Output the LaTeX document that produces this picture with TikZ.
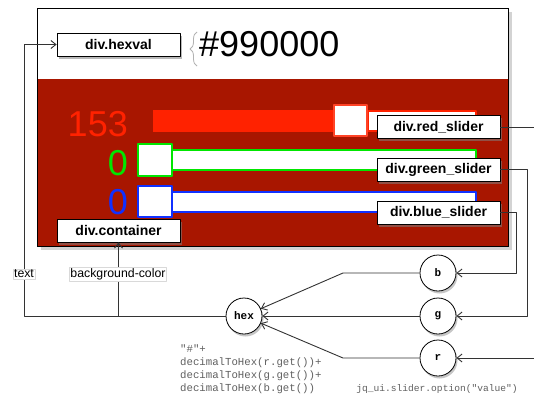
\documentclass[tikz,border=0pt]{standalone}
\usepackage{fontspec}
\setmainfont{Liberation Sans}
\setmonofont{Liberation Mono}
\usetikzlibrary{arrows.meta,shadows,decorations.pathreplacing}
\definecolor{panelred}{RGB}{168,22,0}
\definecolor{hotred}{RGB}{255,34,0}
\definecolor{okgreen}{RGB}{0,230,0}
\definecolor{okblue}{RGB}{16,48,255}
\definecolor{codegray}{RGB}{95,95,95}
\begin{document}
\begin{tikzpicture}[x=1pt,y=-1pt, line join=round, >={Straight Barb[length=5pt,width=8pt]},
	tag/.style={draw=black, fill=white, line width=0.8pt, minimum width=123pt, minimum height=23pt, inner sep=0pt, font=\fontsize{14}{14}\selectfont\bfseries, drop shadow={opacity=0.55, shadow xshift=1.5pt, shadow yshift=-2.5pt}},
	var/.style={circle, draw=black, fill=white, line width=0.8pt, minimum size=36pt, inner sep=0pt, font=\fontsize{11}{11}\selectfont\ttfamily\bfseries, drop shadow={opacity=0.45, shadow xshift=1.5pt, shadow yshift=-2.5pt}},
	lbl/.style={draw=black!15, fill=white, inner sep=1pt, font=\fontsize{12.3}{12.3}\selectfont},
	wire/.style={draw=black!80, line width=0.9pt}]
				\useasboundingbox (0,0) rectangle (534,399);
				% the widget
				\draw[fill=white, drop shadow={opacity=0.35, shadow xshift=4pt, shadow yshift=-4pt}] (37,8) rectangle (508,246);
				\fill[panelred] (37,79) rectangle (508,246);
				\draw[line width=0.8pt] (37,8) rectangle (508,246);
				\draw[black!30, line width=0.8pt, decorate, decoration={brace, amplitude=7pt}] (197,66) -- (197,32);
				\node[anchor=west, inner sep=0pt, font=\fontsize{36}{36}\selectfont] (hexcode) at (199,44) {\#990000};
				% sliders
				\fill[hotred] (153,110) rectangle (333,132);
				\draw[hotred, line width=1.5pt, fill=white] (368,111) rectangle (476,131);
				\draw[hotred!85!white, line width=2pt, fill=white] (334,105) rectangle (367,136);
				\draw[okgreen, line width=2pt, fill=white] (172,150) rectangle (476,170);
				\draw[okgreen, line width=2pt, fill=white] (138,144) rectangle (172,176);
				\draw[okblue, line width=2pt, fill=white] (172,192) rectangle (476,212);
				\draw[okblue, line width=2pt, fill=white] (138,186) rectangle (172,217);
				\node[anchor=east, inner sep=0pt, text=hotred, font=\fontsize{36}{36}\selectfont] (redval) at (128,124) {153};
				\node[anchor=east, inner sep=0pt, text=okgreen, font=\fontsize{36}{36}\selectfont] (greenval) at (128,163) {0};
				\node[anchor=east, inner sep=0pt, text=okblue, font=\fontsize{36}{36}\selectfont] (blueval) at (128,202) {0};
				% div labels
				\node[tag] (hexval) at (118.5,44.5) {div.hexval};
				\node[tag] (container) at (118.5,230.5) {div.container};
				\node[tag] (redslider) at (438.5,127) {div.red\_slider};
				\node[tag] (greenslider) at (438.5,169.5) {div.green\_slider};
				\node[tag] (blueslider) at (438.5,212.5) {div.blue\_slider};
				% values
				\node[var] (hex) at (244,316) {hex};
				\node[var] (b) at (438,273) {b};
				\node[var] (g) at (438,316) {g};
				\node[var] (r) at (438,358) {r};
				\coordinate (lt) at (24,316);
				\coordinate (bk) at (343,273);
				\coordinate (rk) at (343,358);
				\coordinate (redout) at (534,127);
				\coordinate (rin) at (534,358);
				\draw[wire,->] (hex) -- (lt) |- (hexval);
				\draw[wire,->] (container.south |- lt) -- (container);
				\node[lbl] (txt) at (24,274) {text};
				\node[lbl] (bgc) at (118,274) {background-color};
				\draw[wire,->] (b) -- (bk) -- (hex);
				\draw[wire,->] (g) -- (hex);
				\draw[wire,->] (r) -- (rk) -- (hex);
				\draw[wire] (redslider) -- (redout);
				\draw[wire,->] (rin) -- (r);
				\draw[wire,->] (greenslider.east) -- ++(27,0) |- (g);
				\draw[wire,->] (blueslider.east) -- ++(16,0) |- (b);
				% code
				\node[anchor=north west, align=left, inner sep=0pt, text=codegray, font=\fontsize{10.7}{12.8}\selectfont\ttfamily] (code) at (180,345) {"\#"+\\decimalToHex(r.get())+\\decimalToHex(g.get())+\\decimalToHex(b.get())};
				\node[text=codegray, inner sep=0pt, font=\fontsize{9.6}{9.6}\selectfont\ttfamily] (opt) at (437,389) {jq\_ui.slider.option("value")};
\end{tikzpicture}
\end{document}
